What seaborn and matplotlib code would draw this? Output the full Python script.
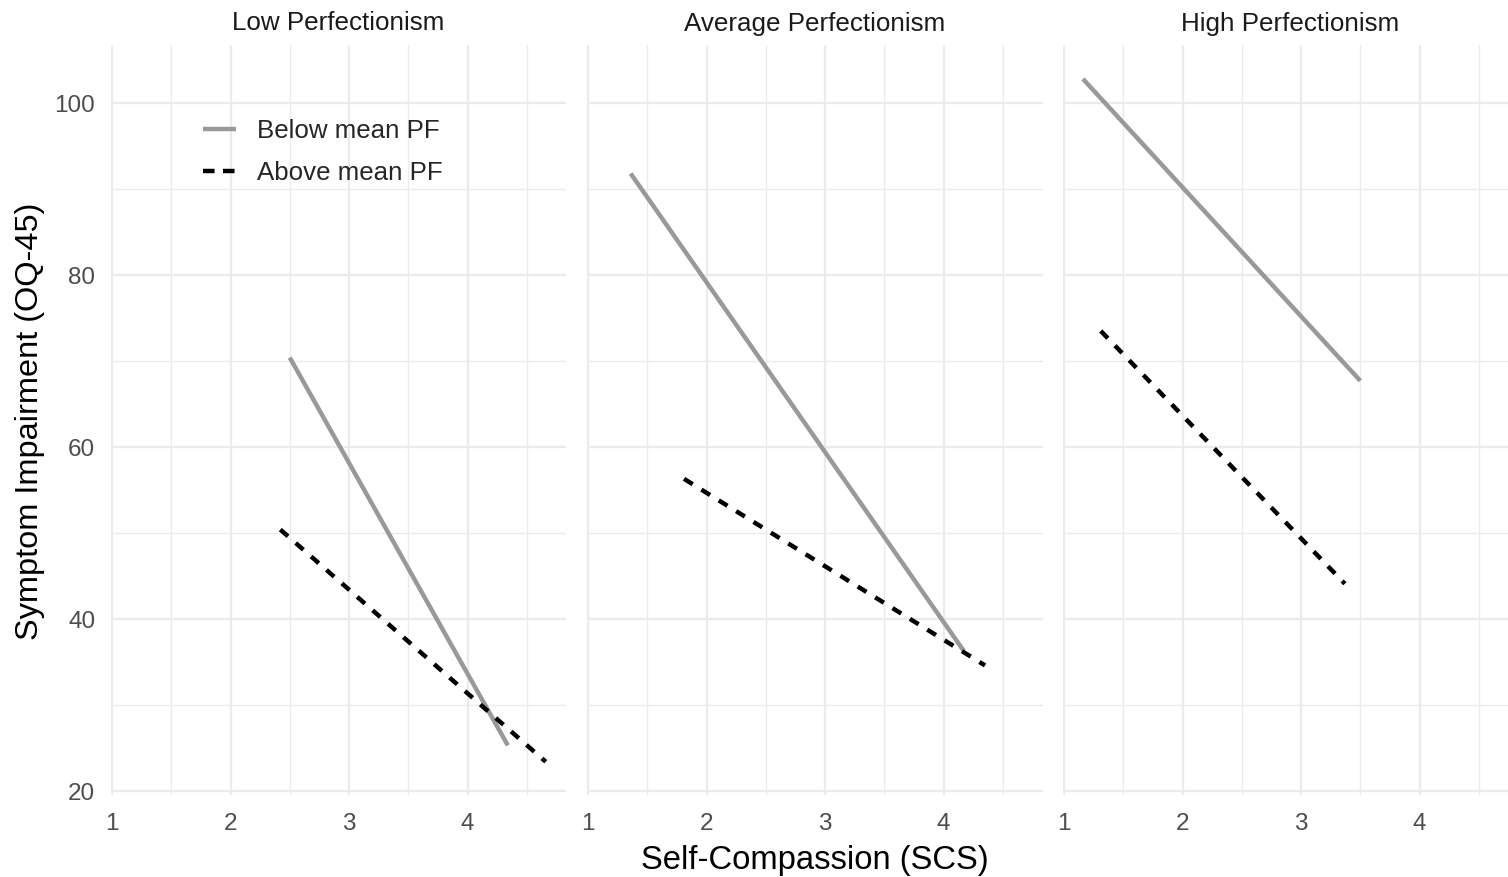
import numpy as np
import pandas as pd
import matplotlib
matplotlib.use("Agg")
import matplotlib.pyplot as plt
import seaborn as sns
from matplotlib.lines import Line2D
from matplotlib.ticker import FixedLocator

# ---------------- data ----------------
panels = ["Low Perfectionism", "Average Perfectionism", "High Perfectionism"]
groups = ["Below mean PF", "Above mean PF"]

below_x = [(2.50, 4.34), (1.36, 4.17), (1.16, 3.50)]
below_y = [(70.4, 25.3), (91.8, 36.3), (102.8, 67.7)]
above_x = [(2.42, 4.66), (1.81, 4.35), (1.31, 3.37)]
above_y = [(50.4, 23.4), (56.3, 34.6), (73.5, 44.1)]

x_ticks = [1, 2, 3, 4]
y_ticks = [20, 40, 60, 80, 100]

rows = []
for i, p in enumerate(panels):
    for xs, ys, g in ((below_x[i], below_y[i], groups[0]), (above_x[i], above_y[i], groups[1])):
        for xv, yv in zip(xs, ys):
            rows.append({"panel": p, "group": g, "scs": xv, "oq": yv})
df = pd.DataFrame(rows)

# ---------------- style ----------------
sns.set_theme(style="white")
plt.rcParams["font.family"] = ["Liberation Sans", "DejaVu Sans"]

W, H = 1508, 877
fig = plt.figure(figsize=(W / 100, H / 100), dpi=100)

palette = {groups[0]: "#999999", groups[1]: "#000000"}
dashes = {groups[0]: "", groups[1]: (2.3, 2.3)}

xlim = (0.988, 4.835)
ylim = (19.5, 106.7)

panel_left = [110.6, 586.6, 1062.6]
panel_w = 455.9
panel_top = 45.4
panel_h = 749.9

def px_axes(left, top, width, height):
    return fig.add_axes([left / W, 1 - (top + height) / H, width / W, height / H])

axes = []
for i, p in enumerate(panels):
    ax = px_axes(panel_left[i], panel_top, panel_w, panel_h)
    sub = df[df["panel"] == p]
    sns.lineplot(data=sub, x="scs", y="oq", hue="group", style="group",
                 hue_order=groups, style_order=groups, palette=palette,
                 dashes=dashes, linewidth=3.2, estimator=None, sort=False,
                 legend=False, ax=ax)
    for ln in ax.lines:
        ln.set_dash_capstyle("butt")
        ln.set_solid_capstyle("butt")
    ax.set_xlim(*xlim)
    ax.set_ylim(*ylim)
    ax.xaxis.set_major_locator(FixedLocator(x_ticks))
    ax.xaxis.set_minor_locator(FixedLocator([1.5, 2.5, 3.5, 4.5]))
    ax.yaxis.set_major_locator(FixedLocator(y_ticks))
    ax.yaxis.set_minor_locator(FixedLocator([30, 50, 70, 90]))
    ax.grid(which="major", color="#EBEBEB", linewidth=1.6)
    ax.grid(which="minor", color="#EBEBEB", linewidth=1.0)
    ax.set_axisbelow(True)
    for s in ax.spines.values():
        s.set_visible(False)
    ax.tick_params(which="both", length=0)
    ax.tick_params(axis="x", labelsize=17.5, labelcolor="#4D4D4D", pad=12.5)
    ax.tick_params(axis="y", labelsize=17.5, labelcolor="#4D4D4D", pad=11)
    if i > 0:
        ax.set_yticklabels([])
    ax.set_xlabel("")
    ax.set_ylabel("")
    ax.set_facecolor("white")
    fig.text((panel_left[i] + panel_w / 2) / W, 1 - 23.5 / H, p, ha="center",
             va="center", fontsize=18.7, color="#1A1A1A")
    axes.append(ax)

# legend inside first panel
handles = [Line2D([], [], color=palette[groups[0]], lw=3.2, solid_capstyle="butt"),
           Line2D([], [], color=palette[groups[1]], lw=3.2, dashes=(2.6, 1.9),
                  dash_capstyle="butt")]
axes[0].legend(handles, groups, loc="center left", frameon=False,
               bbox_to_anchor=(203 / W, 1 - 152 / H), bbox_transform=fig.transFigure,
               fontsize=18.6, handlelength=1.28, handletextpad=0.8,
               labelspacing=0.7, borderpad=0, borderaxespad=0)

fig.text(815 / W, 1 - 860 / H, "Self-Compassion (SCS)", ha="center", va="center",
         fontsize=23.6, color="black")
fig.text(30 / W, 1 - 421 / H, "Symptom Impairment (OQ-45)", ha="center", va="center",
         rotation=90, fontsize=23.4, color="black")

fig.savefig("out.png", dpi=100, facecolor="white")
